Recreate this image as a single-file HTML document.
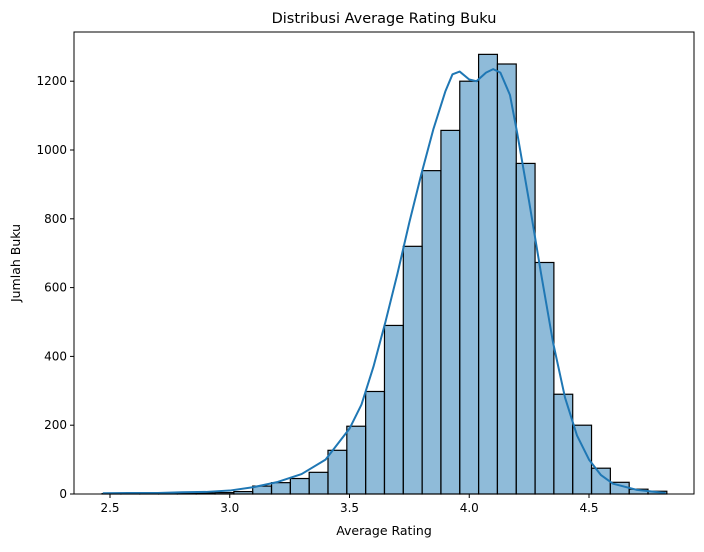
<!DOCTYPE html>
<html><head><meta charset="utf-8"><style>
body{margin:0;background:#fff}
svg text{font-family:"DejaVu Sans","Liberation Sans",sans-serif;fill:#000}
</style></head><body>
<svg id="chart" width="704" height="547" xmlns="http://www.w3.org/2000/svg">
<rect width="704" height="547" fill="#fff"/>
<text x="384" y="23" font-size="14.5" text-anchor="middle">Distribusi Average Rating Buku</text>
<text x="384" y="535" font-size="12.5" text-anchor="middle">Average Rating</text>
<text x="0" y="0" font-size="12.5" text-anchor="middle" transform="translate(20,263) rotate(-90)">Jumlah Buku</text>
<g id="bars"></g><g id="kde"></g><g id="axes"></g>
</svg>
<script>
const binStart = 2.467;
const binWidth = 0.0786;
const counts = [1,1,1,2,2,3,4,7,23,33,45,63,127,197,298,490,720,940,1057,1200,1278,1250,961,673,290,200,75,34,14,8];
const kdeX = [2.47,2.6,2.7,2.8,2.9,3.0,3.1,3.2,3.3,3.4,3.5,3.55,3.6,3.65,3.7,3.75,3.8,3.85,3.9,3.93,3.96,4.0,4.03,4.07,4.1,4.13,4.17,4.2,4.25,4.3,4.35,4.4,4.45,4.5,4.55,4.6,4.7,4.82];
const kdeY = [2,3,3,5,6,10,20,35,58,100,190,260,370,500,640,790,930,1060,1170,1220,1228,1205,1200,1225,1235,1225,1160,1050,850,640,440,280,170,100,55,30,12,3];
const xTicks = [2.5,3.0,3.5,4.0,4.5];
const yTicks = [0,200,400,600,800,1000,1200];
const L=74,R=694,T=32,B=494;
const sx=v=>110+(v-2.5)*239.5;
const sy=v=>B-v*0.344;
const NS="http://www.w3.org/2000/svg";
function mk(tag,attrs,parent){const e=document.createElementNS(NS,tag);for(const k in attrs)e.setAttribute(k,attrs[k]);parent.appendChild(e);return e;}
const bars=document.getElementById('bars');
counts.forEach((c,i)=>{
  const x0=sx(binStart+i*binWidth),x1=sx(binStart+(i+1)*binWidth);
  const r=mk('rect',{x:x0,y:sy(c),width:x1-x0,height:B-sy(c),fill:'rgba(31,119,180,0.5)',stroke:'#000','stroke-width':1.2},bars);
  
  
});
const kde=document.getElementById('kde');
const p=mk('path',{d:kdeX.map((x,i)=>(i?'L':'M')+sx(x)+','+sy(kdeY[i])).join(''),fill:'none',stroke:'#1f77b4','stroke-width':2,'stroke-linejoin':'round'},kde);


const ax=document.getElementById('axes');
const fr=mk('rect',{x:L,y:T,width:R-L,height:B-T,fill:'none',stroke:'#000','stroke-width':1},ax);


xTicks.forEach(t=>{
  const x=sx(t);
  mk('line',{x1:x,x2:x,y1:B,y2:B+4,stroke:'#000'},ax);
  const tx=mk('text',{x:x,y:B+18,'font-size':12,'text-anchor':'middle'},ax);
  tx.textContent=t.toFixed(1);
  
  
});
yTicks.forEach(t=>{
  const y=sy(t);
  mk('line',{x1:L-4,x2:L,y1:y,y2:y,stroke:'#000'},ax);
  const tx=mk('text',{x:L-7,y:y+4,'font-size':12,'text-anchor':'end'},ax);
  tx.textContent=t;
  
  
});
</script>
</body></html>
